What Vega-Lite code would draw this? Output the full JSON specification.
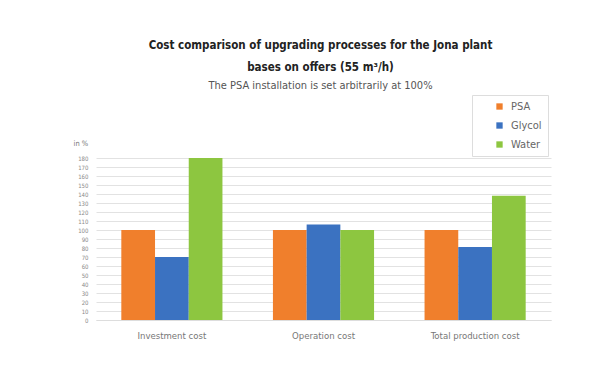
{
  "$schema": "https://vega.github.io/schema/vega-lite/v6.json",
  "autosize": {"type": "none"},
  "width": 455,
  "height": 162,
  "padding": {"left": 96, "top": 158, "right": 61, "bottom": 65},
  "background": "white",
  "title": {
    "text": ["Cost comparison of upgrading processes for the Jona plant", "bases on offers (55 m³/h)"],
    "subtitle": "The PSA installation is set arbitrarily at 100%",
    "anchor": "middle",
    "dx": -3,
    "offset": 4,
    "font": "DejaVu Sans Condensed, sans-serif",
    "fontSize": 11.5,
    "fontWeight": "bold",
    "color": "#222222",
    "lineHeight": 22,
    "subtitleFont": "DejaVu Sans Condensed, sans-serif",
    "subtitleFontSize": 11,
    "subtitleColor": "#555555",
    "subtitlePadding": 6
  },
  "data": {
    "values": [
      {"category": "Investment cost", "process": "PSA", "value": 100},
      {"category": "Investment cost", "process": "Glycol", "value": 70},
      {"category": "Investment cost", "process": "Water", "value": 180},
      {"category": "Operation cost", "process": "PSA", "value": 100},
      {"category": "Operation cost", "process": "Glycol", "value": 106},
      {"category": "Operation cost", "process": "Water", "value": 100},
      {"category": "Total production cost", "process": "PSA", "value": 100},
      {"category": "Total production cost", "process": "Glycol", "value": 81},
      {"category": "Total production cost", "process": "Water", "value": 138}
    ]
  },
  "mark": {"type": "bar"},
  "encoding": {
    "x": {
      "field": "category",
      "type": "nominal",
      "sort": ["Investment cost", "Operation cost", "Total production cost"],
      "scale": {"paddingInner": 0.333, "paddingOuter": 0.167},
      "axis": {
        "title": null,
        "labelAngle": 0,
        "labelFont": "DejaVu Sans Condensed, sans-serif",
        "labelFontSize": 9.5,
        "labelColor": "#777777",
        "labelPadding": 10,
        "ticks": false,
        "domainColor": "#dddddd"
      }
    },
    "xOffset": {
      "field": "process",
      "type": "nominal",
      "sort": ["PSA", "Glycol", "Water"],
      "scale": {"paddingInner": 0, "paddingOuter": 0}
    },
    "y": {
      "field": "value",
      "type": "quantitative",
      "scale": {"domain": [0, 180], "nice": false},
      "axis": {
        "values": [0, 10, 20, 30, 40, 50, 60, 70, 80, 90, 100, 110, 120, 130, 140, 150, 160, 170, 180],
        "title": "in %",
        "titleAngle": 0,
        "titleX": -23,
        "titleY": -15,
        "titleAlign": "left",
        "titleBaseline": "middle",
        "titleFont": "DejaVu Sans Condensed, sans-serif",
        "titleFontSize": 7.5,
        "titleFontWeight": "normal",
        "titleColor": "#777777",
        "labelFont": "DejaVu Sans Condensed, sans-serif",
        "labelFontSize": 6,
        "labelColor": "#888888",
        "labelPadding": 8,
        "ticks": false,
        "domain": false,
        "gridColor": "#e2e2e2",
        "gridWidth": 1
      }
    },
    "color": {
      "field": "process",
      "type": "nominal",
      "sort": ["PSA", "Glycol", "Water"],
      "scale": {"domain": ["PSA", "Glycol", "Water"], "range": ["#F07F2C", "#3B72C1", "#8DC640"]},
      "legend": {
        "title": null,
        "orient": "none",
        "legendX": 376,
        "legendY": -63,
        "symbolType": "square",
        "symbolSize": 40,
        "symbolStrokeWidth": 0,
        "labelFont": "DejaVu Sans Condensed, sans-serif",
        "labelFontSize": 11,
        "labelColor": "#666666",
        "rowPadding": 7,
        "padding": 6,
        "offset": 0,
        "strokeColor": "#dddddd",
        "fillColor": "white"
      }
    }
  },
  "config": {
    "view": {"stroke": null},
    "legend": {"symbolOffset": 16, "labelOffset": 6}
  }
}
